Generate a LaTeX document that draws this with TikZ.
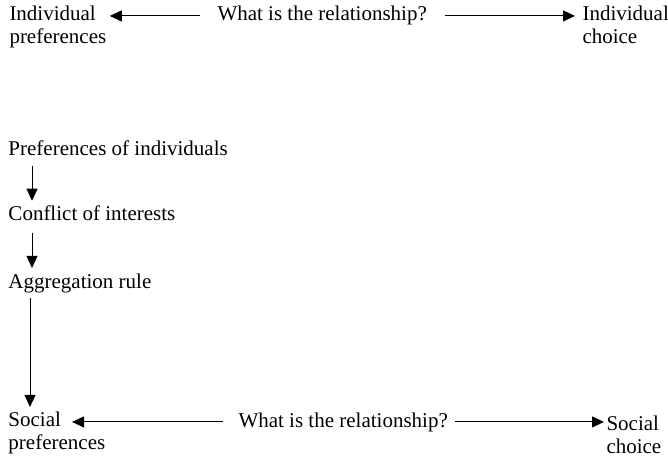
\documentclass[tikz,border=0pt]{standalone}
\usepackage{fontspec}
\setmainfont{Liberation Serif}
\usetikzlibrary{arrows.meta}

\begin{document}
\begin{tikzpicture}[->,>={Triangle[length=12pt,width=11pt]},line width=1pt,x=1pt,y=-1pt,
  every node/.style={inner sep=0pt,anchor=base west,align=left,font=\fontsize{21}{23}\selectfont}]
  \useasboundingbox (0,0) rectangle (668,460);
  % two-line nodes: base is the second line
  \node (IndPref) at (9,44) {Individual\\preferences};
  \node (Rel1) at (217,21) {What is the relationship?};
  \node (IndChoice) at (582,44) {Individual\\choice};
  \node (PrefInd) at (8,155) {Preferences of individuals};
  \node (Conflict) at (8,220) {Conflict of interests};
  \node (Aggr) at (8,288) {Aggregation rule};
  \node (SocPref) at (8,449) {Social\\preferences};
  \node (Rel2) at (238,427) {What is the relationship?};
  \node (SocChoice) at (606,453) {Social\\choice};

  \draw[shorten <=17pt] (Rel1.west) -- ([xshift=3pt]Rel1.west -| IndPref.east);
  \draw[shorten <=18pt,shorten >=7pt] (Rel1.east) -- (Rel1.east -| IndChoice.west);
  \draw[shorten <=10pt,shorten >=4pt] ([xshift=24pt]PrefInd.south west) -- ([xshift=24pt]Conflict.north west);
  \draw[shorten <=12pt,shorten >=5pt] ([xshift=24pt]Conflict.south west) -- ([xshift=24pt]Aggr.north west);
  \draw[shorten <=5pt,shorten >=4pt] ([xshift=22pt]Aggr.south west) -- ([xshift=22pt]SocPref.north west);
  \draw[shorten <=15pt] (Rel2.west) -- ([xshift=64pt]Rel2.west -| SocPref.west);
  \draw[shorten <=7pt,shorten >=2pt] (Rel2.east) -- (Rel2.east -| SocChoice.west);
\end{tikzpicture}
\end{document}
